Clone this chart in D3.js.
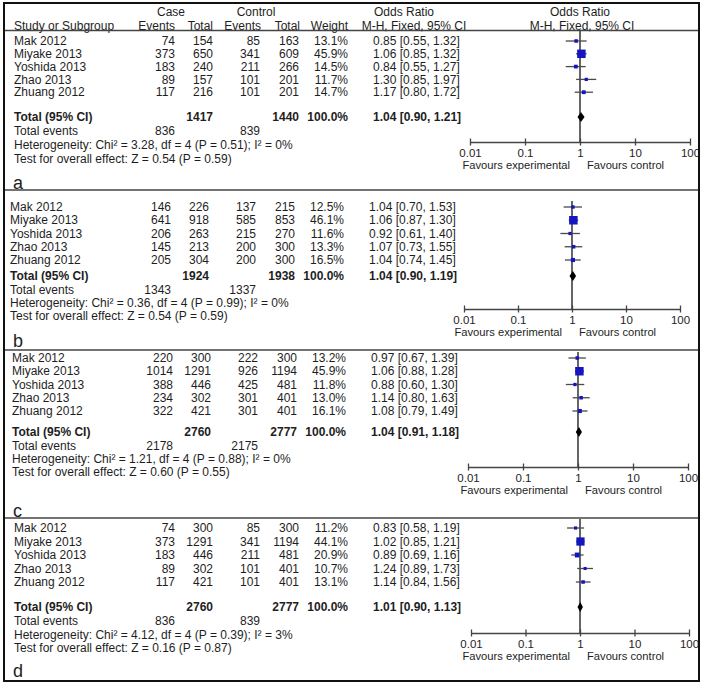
<!DOCTYPE html>
<html><head><meta charset="utf-8">
<script src="https://cdn.jsdelivr.net/npm/d3@7"></script>
<style>
body{margin:0;background:#fff}
svg{display:block}
text{font-family:"Liberation Sans",Arial,sans-serif;fill:#1e1e1e;}
</style>
</head><body><svg id="chart" width="711" height="688"></svg>
<script>
// ---------------- data ----------------
const studies = ["Mak 2012","Miyake 2013","Yoshida 2013","Zhao 2013","Zhuang 2012"];
const panelLabels = ["a","b","c","d"];
const caseEvents = [[74,373,183,89,117],[146,641,206,145,205],[220,1014,388,234,322],[74,373,183,89,117]];
const caseTotals = [[154,650,240,157,216],[226,918,263,213,304],[300,1291,446,302,421],[300,1291,446,302,421]];
const ctrlEvents = [[85,341,211,101,101],[137,585,215,200,200],[222,926,425,301,301],[85,341,211,101,101]];
const ctrlTotals = [[163,609,266,201,201],[215,853,270,300,300],[300,1194,481,401,401],[300,1194,481,401,401]];
const weights = [[13.1,45.9,14.5,11.7,14.7],[12.5,46.1,11.6,13.3,16.5],[13.2,45.9,11.8,13.0,16.1],[11.2,44.1,20.9,10.7,13.1]];
const oddsRatio = [[0.85,1.06,0.84,1.30,1.17],[1.04,1.06,0.92,1.07,1.04],[0.97,1.06,0.88,1.14,1.08],[0.83,1.02,0.89,1.24,1.14]];
const ciLower = [[0.55,0.85,0.55,0.85,0.80],[0.70,0.87,0.61,0.73,0.74],[0.67,0.88,0.60,0.80,0.79],[0.58,0.85,0.69,0.89,0.84]];
const ciUpper = [[1.32,1.32,1.27,1.97,1.72],[1.53,1.30,1.40,1.55,1.45],[1.39,1.28,1.30,1.63,1.49],[1.19,1.21,1.16,1.73,1.56]];
const totalCase = [1417,1924,2760,2760];
const totalCtrl = [1440,1938,2777,2777];
const totalEventsCase = [836,1343,2178,836];
const totalEventsCtrl = [839,1337,2175,839];
const pooledOR = [1.04,1.04,1.04,1.01];
const pooledLower = [0.90,0.90,0.91,0.90];
const pooledUpper = [1.21,1.19,1.18,1.13];
const chi2 = ["3.28","0.36","1.21","4.12"];
const hetP = ["0.51","0.99","0.88","0.39"];
const iSquared = ["0%","0%","0%","3%"];
const zValue = ["0.54","0.54","0.60","0.16"];
const zP = ["0.59","0.59","0.55","0.87"];
const tickValues = [0.01,0.1,1,10,100];
const tickLabels = ["0.01","0.1","1","10","100"];

// ---------------- layout ----------------
const layout = [
  {dx:0,  row0:41,  step:12.8,  total:117, foot:14,   axisY:142, x0:470, x1:690, vTop:31,  label:189},
  {dx:-4, row0:207, step:13.25, total:276, foot:13.4, axisY:309, x0:464, x1:680, vTop:201, label:347},
  {dx:-2, row0:358, step:13.25, total:432, foot:13.4, axisY:467, x0:468, x1:688, vTop:352, label:517},
  {dx:0,  row0:528, step:13.5,  total:607, foot:13.7, axisY:633, x0:471, x1:689, vTop:519, label:677}
];
const colEv1 = 175, colTot1 = 213, colEv2 = 260, colTot2 = 299, colW = 348, colOR = 373, colStudy = 14;
const FS = 12;
const blue = "#1616c0";

const svg = d3.select("#chart");
svg.append("rect").attr("width",711).attr("height",688).attr("fill","#fff");

function txt(g, x, y, s, opts={}) {
  return g.append("text").attr("x",x).attr("y",y).attr("dy","0.35em")
    .attr("font-size",opts.size||FS)
    .attr("font-weight",opts.bold?"bold":"normal")
    .attr("text-anchor",opts.anchor||"start")
    .text(s);
}

// header
const hdr = svg.append("g");
txt(hdr,171,12,"Case",{anchor:"middle"});
txt(hdr,256,12,"Control",{anchor:"middle"});
txt(hdr,404,12,"Odds Ratio",{anchor:"middle"});
txt(hdr,580,12,"Odds Ratio",{anchor:"middle"});
txt(hdr,colStudy,26,"Study or Subgroup");
txt(hdr,colEv1,26,"Events",{anchor:"end"});
txt(hdr,colTot1,26,"Total",{anchor:"end"});
txt(hdr,colEv2+1,26,"Events",{anchor:"end"});
txt(hdr,colTot2+1,26,"Total",{anchor:"end"});
txt(hdr,colW,26,"Weight",{anchor:"end"});
txt(hdr,414,26,"M-H, Fixed, 95% CI",{anchor:"middle"});
txt(hdr,582,26,"M-H, Fixed, 95% CI",{anchor:"middle"});

// separators
const sepY = [30.5,190,350,518];
sepY.forEach(y => svg.append("line").attr("x1",4).attr("x2",699).attr("y1",y).attr("y2",y)
  .attr("stroke","#444").attr("stroke-width",1.6));

const sizeScale = d3.scalePow().exponent(0.7).domain([0,46]).range([0,8.5]);
const fmt2 = d3.format(".2f");

layout.forEach((L,p) => {
  const g = svg.append("g").attr("transform",`translate(${L.dx},0)`);
  const x = d3.scaleLog().domain([0.01,100]).range([L.x0 - L.dx, L.x1 - L.dx]);
  const rowY = i => L.row0 + i*L.step;

  studies.forEach((s,i) => {
    const y = rowY(i);
    txt(g,colStudy,y,s);
    txt(g,colEv1,y,caseEvents[p][i],{anchor:"end"});
    txt(g,colTot1,y,caseTotals[p][i],{anchor:"end"});
    txt(g,colEv2,y,ctrlEvents[p][i],{anchor:"end"});
    txt(g,colTot2,y,ctrlTotals[p][i],{anchor:"end"});
    txt(g,colW,y,weights[p][i].toFixed(1)+"%",{anchor:"end"});
    txt(g,colOR,y,`${fmt2(oddsRatio[p][i])} [${fmt2(ciLower[p][i])}, ${fmt2(ciUpper[p][i])}]`);
  });

  // totals
  txt(g,colStudy,L.total,"Total (95% CI)",{bold:true});
  txt(g,colTot1,L.total,totalCase[p],{anchor:"end",bold:true});
  txt(g,colTot2,L.total,totalCtrl[p],{anchor:"end",bold:true});
  txt(g,colW,L.total,"100.0%",{anchor:"end",bold:true});
  txt(g,colOR,L.total,`${fmt2(pooledOR[p])} [${fmt2(pooledLower[p])}, ${fmt2(pooledUpper[p])}]`,{bold:true});
  const fy = L.total + L.foot;
  txt(g,colStudy,fy,"Total events");
  txt(g,colEv1,fy,totalEventsCase[p],{anchor:"end"});
  txt(g,colEv2,fy,totalEventsCtrl[p],{anchor:"end"});
  txt(g,colStudy,fy+L.foot,`Heterogeneity: Chi² = ${chi2[p]}, df = 4 (P = ${hetP[p]}); I² = ${iSquared[p]}`);
  txt(g,colStudy,fy+2*L.foot,`Test for overall effect: Z = ${zValue[p]} (P = ${zP[p]})`);

  // panel label
  g.append("text").attr("x",13 - L.dx).attr("y",L.label).attr("font-size",18).text(panelLabels[p]);

  // vertical line at 1
  g.append("line").attr("x1",x(1)).attr("x2",x(1)).attr("y1",L.vTop).attr("y2",L.axisY)
    .attr("stroke","#555").attr("stroke-width",1.8);

  // CIs and squares
  studies.forEach((s,i) => {
    const y = rowY(i);
    g.append("line").attr("x1",x(ciLower[p][i])).attr("x2",x(ciUpper[p][i]))
      .attr("y1",y).attr("y2",y).attr("stroke","#4a4a4a").attr("stroke-width",1.3);
    const sz = sizeScale(weights[p][i]);
    g.append("rect").attr("x",x(oddsRatio[p][i]) - sz/2).attr("y",y - sz/2)
      .attr("width",sz).attr("height",sz).attr("fill",blue);
  });

  // diamond
  const cx = x(pooledOR[p]), ty = L.total;
  g.append("path")
    .attr("d",`M${x(pooledLower[p])},${ty} L${cx},${ty-5} L${x(pooledUpper[p])},${ty} L${cx},${ty+5} Z`)
    .attr("fill","#000");

  // axis
  const ax = g.append("g").attr("transform",`translate(0,${L.axisY})`)
    .call(d3.axisBottom(x).tickValues(tickValues).tickFormat((d,i)=>tickLabels[i])
      .tickSizeInner(0).tickSizeOuter(0).tickPadding(7));
  ax.select(".domain").attr("stroke","#444").attr("stroke-width",1.5);
  ax.selectAll(".tick line").remove();
  ax.selectAll(".tick").append("line").attr("y1",-3.5).attr("y2",3.5).attr("stroke","#444").attr("stroke-width",1.3);
  ax.selectAll(".tick text").attr("font-size",11.5).attr("font-family","Liberation Sans, Arial, sans-serif").attr("fill","#1e1e1e");

  txt(g,x(1)-10,L.axisY+23,"Favours experimental",{anchor:"end",size:11.2});
  txt(g,x(1)+7,L.axisY+23,"Favours control",{size:11.2});
});

// outer border
svg.append("rect").attr("x",4).attr("y",3).attr("width",695).attr("height",678)
  .attr("fill","none").attr("stroke","#111").attr("stroke-width",2);
</script>
</body></html>
